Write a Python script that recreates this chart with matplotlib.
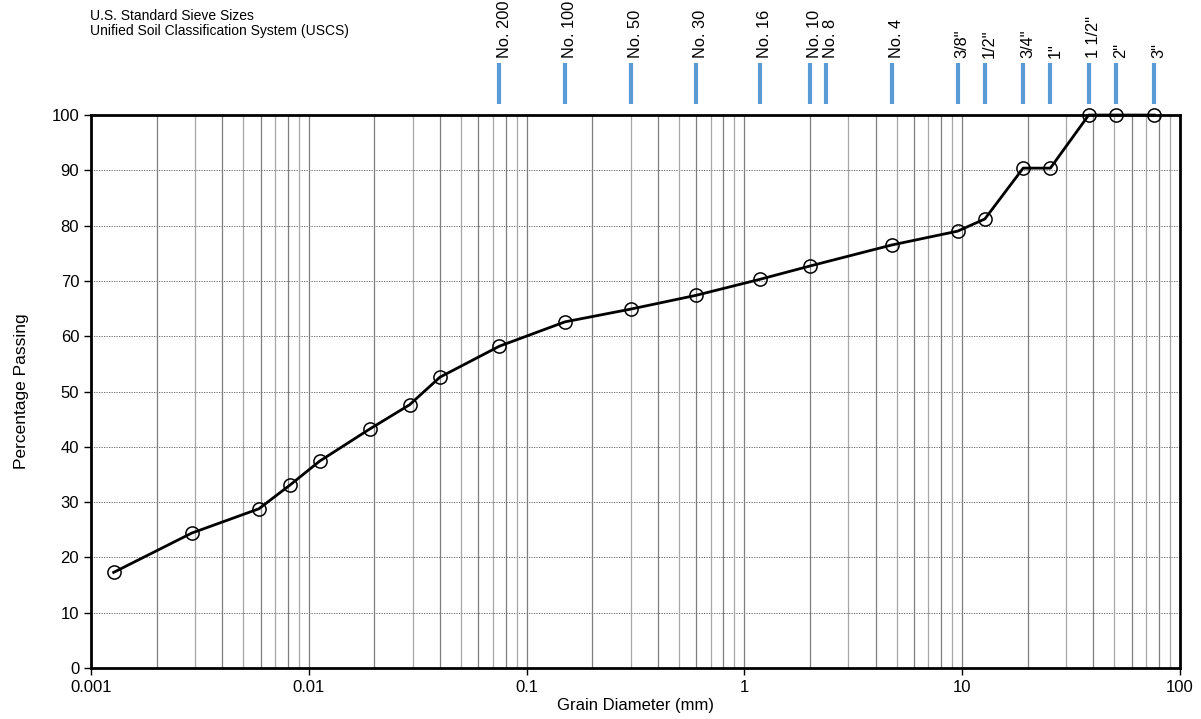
import numpy as np
import matplotlib.pyplot as plt
from matplotlib.ticker import FixedLocator, NullFormatter

plt.rcParams['font.family'] = ['Liberation Sans', 'DejaVu Sans']

# grain size distribution (mm, % passing)
diameter = [76.2, 50.8, 38.1, 25.4, 19.05, 12.7, 9.525, 4.75, 2.0, 1.18, 0.6, 0.3,
            0.15, 0.075, 0.040, 0.029, 0.019, 0.0112, 0.0082, 0.0059, 0.0029, 0.00127]
passing = [100, 100, 100, 90.4, 90.4, 81.2, 79.0, 76.5, 72.7, 70.3, 67.4, 64.9,
           62.6, 58.2, 52.6, 47.6, 43.2, 37.4, 33.1, 28.8, 24.4, 17.3]

# US standard sieves
sieve_names = ['No. 200', 'No. 100', 'No. 50', 'No. 30', 'No. 16', 'No. 10', 'No. 8',
               'No. 4', '3/8"', '1/2"', '3/4"', '1"', '1 1/2"', '2"', '3"']
sieve_mm = [0.075, 0.15, 0.3, 0.6, 1.18, 2.0, 2.36, 4.75, 9.525, 12.7, 19.05, 25.4,
            38.1, 50.8, 76.2]

fig = plt.figure(figsize=(12.01, 7.19), dpi=100)
ax = fig.add_axes([0.0758, 0.0709, 0.9067, 0.7691])

ax.set_xscale('log')
ax.set_xlim(0.001, 100)
ax.set_ylim(0, 100)

# vertical grid at every 1-9 multiple
for d in range(-3, 2):
    for m in range(1, 10):
        x = m * 10.0 ** d
        if 0.001 < x < 100:
            ax.axvline(x, color='#7f7f7f' if m % 2 == 0 or m == 1 else '#a6a6a6',
                       lw=0.9, zorder=1)
ax.set_yticks(np.arange(0, 101, 10))
ax.yaxis.grid(True, ls=(0, (1.5, 1.5)), color='#555555', lw=0.6)
ax.set_axisbelow(True)

ax.plot(diameter, passing, color='black', lw=2, marker='o', ms=9.5,
        mfc='none', mec='black', mew=1.1, zorder=3, clip_on=False)

ax.xaxis.set_major_locator(FixedLocator([0.001, 0.01, 0.1, 1, 10, 100]))
ax.set_xticklabels(['0.001', '0.01', '0.1', '1', '10', '100'])
ax.xaxis.set_minor_formatter(NullFormatter())
ax.tick_params(axis='x', which='minor', length=0)
ax.tick_params(axis='both', which='major', labelsize=12, length=5, width=1)
for s in ax.spines.values():
    s.set_linewidth(2)

ax.set_xlabel('Grain Diameter (mm)', fontsize=12, labelpad=2)
ax.set_ylabel('Percentage Passing', fontsize=12.5, labelpad=16)

# sieve marks above the plot
trans = ax.get_xaxis_transform()
for name, x in zip(sieve_names, sieve_mm):
    ax.plot([x, x], [1.02, 1.094], color='#5b9bd5', lw=3, transform=trans,
            clip_on=False, solid_capstyle='butt')
    ax.text(x * 1.05, 1.103, name, rotation=90, ha='center', va='bottom',
            fontsize=11.8, transform=trans)

fig.text(0.075, 0.988, 'U.S. Standard Sieve Sizes', fontsize=10, va='top')
fig.text(0.075, 0.966, 'Unified Soil Classification System (USCS)', fontsize=10, va='top')

fig.savefig('out.png', dpi=100)
